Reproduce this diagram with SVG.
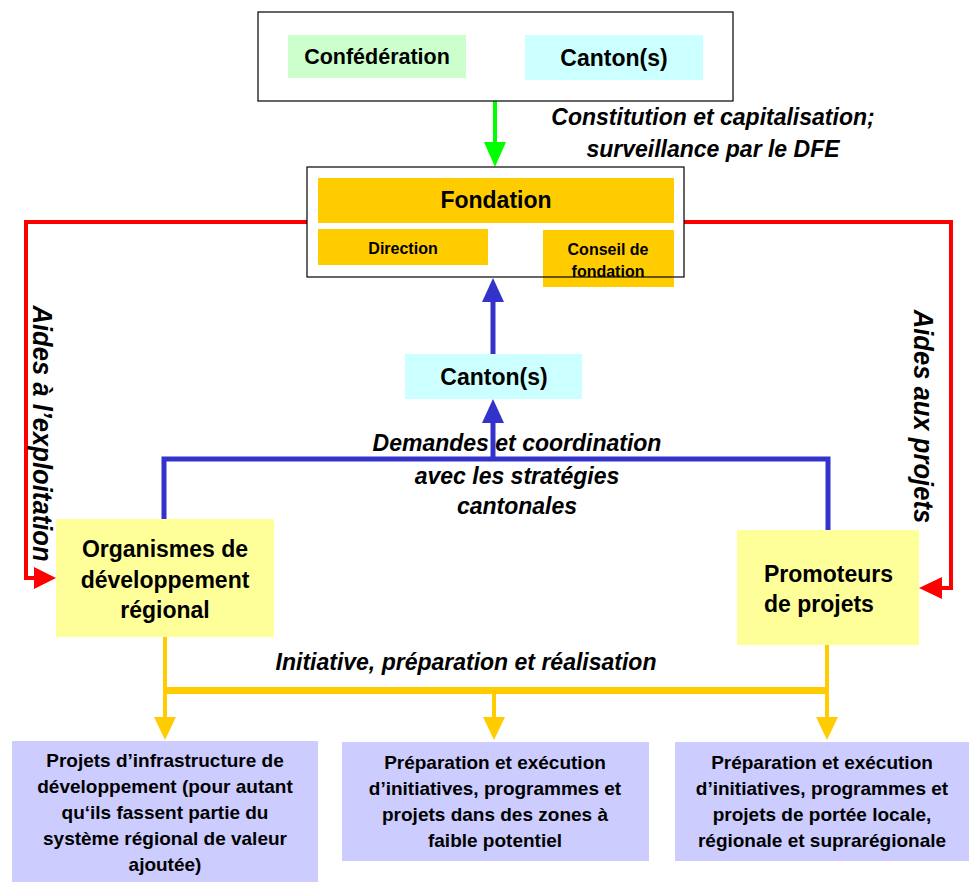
<svg xmlns="http://www.w3.org/2000/svg" width="969" height="882" viewBox="0 0 969 882">
<style>
text{font-family:"Liberation Sans",Arial,sans-serif;font-weight:bold;fill:#000;text-anchor:middle}
.it{font-style:italic;font-size:23px}
.rot{font-style:italic;font-size:28px}
.n{font-size:23px}
.s{font-size:16px}
.b{font-size:19px}
.frame{fill:#fff;stroke:#000;stroke-width:1.2}
.red{fill:none;stroke:#ff0000;stroke-width:4}
.blue{fill:none;stroke:#3333cc;stroke-width:5}
.yel{fill:none;stroke:#ffcc00;stroke-width:4}
.grn{fill:none;stroke:#00ff00;stroke-width:4}
</style>
<rect width="969" height="882" fill="#fff"/>

<g id="connectors">
  <!-- green -->
  <line class="grn" x1="495" y1="101" x2="495" y2="144"/>
  <polygon points="484,142 506,142 495,167" fill="#00ff00"/>
  <!-- red left -->
  <polyline class="red" points="307,222 26,222 26,578 36,578"/>
  <polygon points="34,567 34,589 56,578" fill="#ff0000"/>
  <!-- red right -->
  <polyline class="red" points="684,222 951,222 951,588 940,588"/>
  <polygon points="942,577 942,599 919,588" fill="#ff0000"/>
  <!-- blue -->
  <polyline class="blue" points="164,519 164,459 828,459 828,530"/>
  <line class="blue" x1="493" y1="459" x2="493" y2="421"/>
  <polygon points="482,423 504,423 493,399" fill="#3333cc"/>
  <line class="blue" x1="493" y1="354" x2="493" y2="300"/>
  <polygon points="482,302 504,302 493,278" fill="#3333cc"/>
  <!-- yellow -->
  <line class="yel" x1="165" y1="637" x2="165" y2="691"/>
  <line class="yel" x1="827" y1="645" x2="827" y2="691"/>
  <line x1="163" y1="690.5" x2="829" y2="690.5" stroke="#ffcc00" stroke-width="7"/>
  <line class="yel" x1="165" y1="691" x2="165" y2="719"/>
  <line class="yel" x1="494" y1="691" x2="494" y2="719"/>
  <line class="yel" x1="827" y1="691" x2="827" y2="719"/>
  <polygon points="154,717 176,717 165,740" fill="#ffcc00"/>
  <polygon points="483,717 505,717 494,740" fill="#ffcc00"/>
  <polygon points="816,717 838,717 827,740" fill="#ffcc00"/>
</g>

<g id="labels">
  <text class="it" x="713" y="125">Constitution et capitalisation;</text>
  <text class="it" x="713" y="157">surveillance par le DFE</text>
  <text class="it" x="517" y="451">Demandes et coordination</text>
  <text class="it" x="517" y="484">avec les stratégies</text>
  <text class="it" x="517" y="514">cantonales</text>
  <text class="it" x="466" y="670">Initiative, préparation et réalisation</text>
  <text class="rot" transform="translate(33,433.5) rotate(90) scale(0.915,1)">Aides à l’exploitation</text>
  <text class="rot" transform="translate(914,416.5) rotate(90) scale(0.915,1)">Aides aux projets</text>
</g>

<g id="top">
  <rect class="frame" x="258" y="12" width="475" height="89"/>
  <g id="confederation">
    <rect x="288" y="35" width="178" height="43" fill="#ccffcc"/>
    <text x="377" y="64" style="font-size:21.5px">Confédération</text>
  </g>
  <g id="canton-top">
    <rect x="525" y="35" width="178" height="45" fill="#ccffff"/>
    <text class="n" x="614" y="66">Canton(s)</text>
  </g>
</g>

<g id="fondation">
  <rect x="307" y="167" width="377" height="110" fill="#fff"/>
  <rect x="318" y="178" width="356" height="45" fill="#ffcc00"/>
  <text x="496" y="208" style="font-size:23px">Fondation</text>
  <g id="direction">
    <rect x="318" y="229" width="170" height="36" fill="#ffcc00"/>
    <text class="s" x="403" y="254">Direction</text>
  </g>
  <g id="conseil">
    <rect x="543" y="230" width="131" height="57" fill="#ffcc00"/>
    <text class="s" x="608" y="255">Conseil de</text>
    <text class="s" x="608" y="277">fondation</text>
  </g>
  <rect x="307" y="167" width="377" height="110" fill="none" stroke="#000" stroke-width="1.2"/>
</g>

<g id="canton-mid">
  <rect x="405" y="354" width="177" height="45" fill="#ccffff"/>
  <text class="n" x="494" y="385">Canton(s)</text>
</g>

<g id="organismes">
  <rect x="56" y="519" width="218" height="118" fill="#ffff99"/>
  <text class="n" x="165" y="557">Organismes de</text>
  <text class="n" x="165" y="588">développement</text>
  <text class="n" x="165" y="618">régional</text>
</g>

<g id="promoteurs">
  <rect x="737" y="530" width="182" height="115" fill="#ffff99"/>
  <text class="n" x="764" y="582" style="text-anchor:start">Promoteurs</text>
  <text class="n" x="764" y="612" style="text-anchor:start">de projets</text>
</g>

<g id="box-infra">
  <rect x="12" y="741" width="306" height="141" fill="#ccccff"/>
  <text class="b" x="165" y="767">Projets d’infrastructure de</text>
  <text class="b" x="165" y="793">développement (pour autant</text>
  <text class="b" x="165" y="819">qu‘ils fassent partie du</text>
  <text class="b" x="165" y="845">système régional de valeur</text>
  <text class="b" x="165" y="871">ajoutée)</text>
</g>

<g id="box-faible">
  <rect x="342" y="742" width="307" height="119" fill="#ccccff"/>
  <text class="b" x="495" y="769">Préparation et exécution</text>
  <text class="b" x="495" y="795">d’initiatives, programmes et</text>
  <text class="b" x="495" y="821">projets dans des zones à</text>
  <text class="b" x="495" y="847">faible potentiel</text>
</g>

<g id="box-portee">
  <rect x="675" y="742" width="294" height="119" fill="#ccccff"/>
  <text class="b" x="822" y="769">Préparation et exécution</text>
  <text class="b" x="822" y="795">d’initiatives, programmes et</text>
  <text class="b" x="822" y="821">projets de portée locale,</text>
  <text class="b" x="822" y="847">régionale et suprarégionale</text>
</g>
</svg>
